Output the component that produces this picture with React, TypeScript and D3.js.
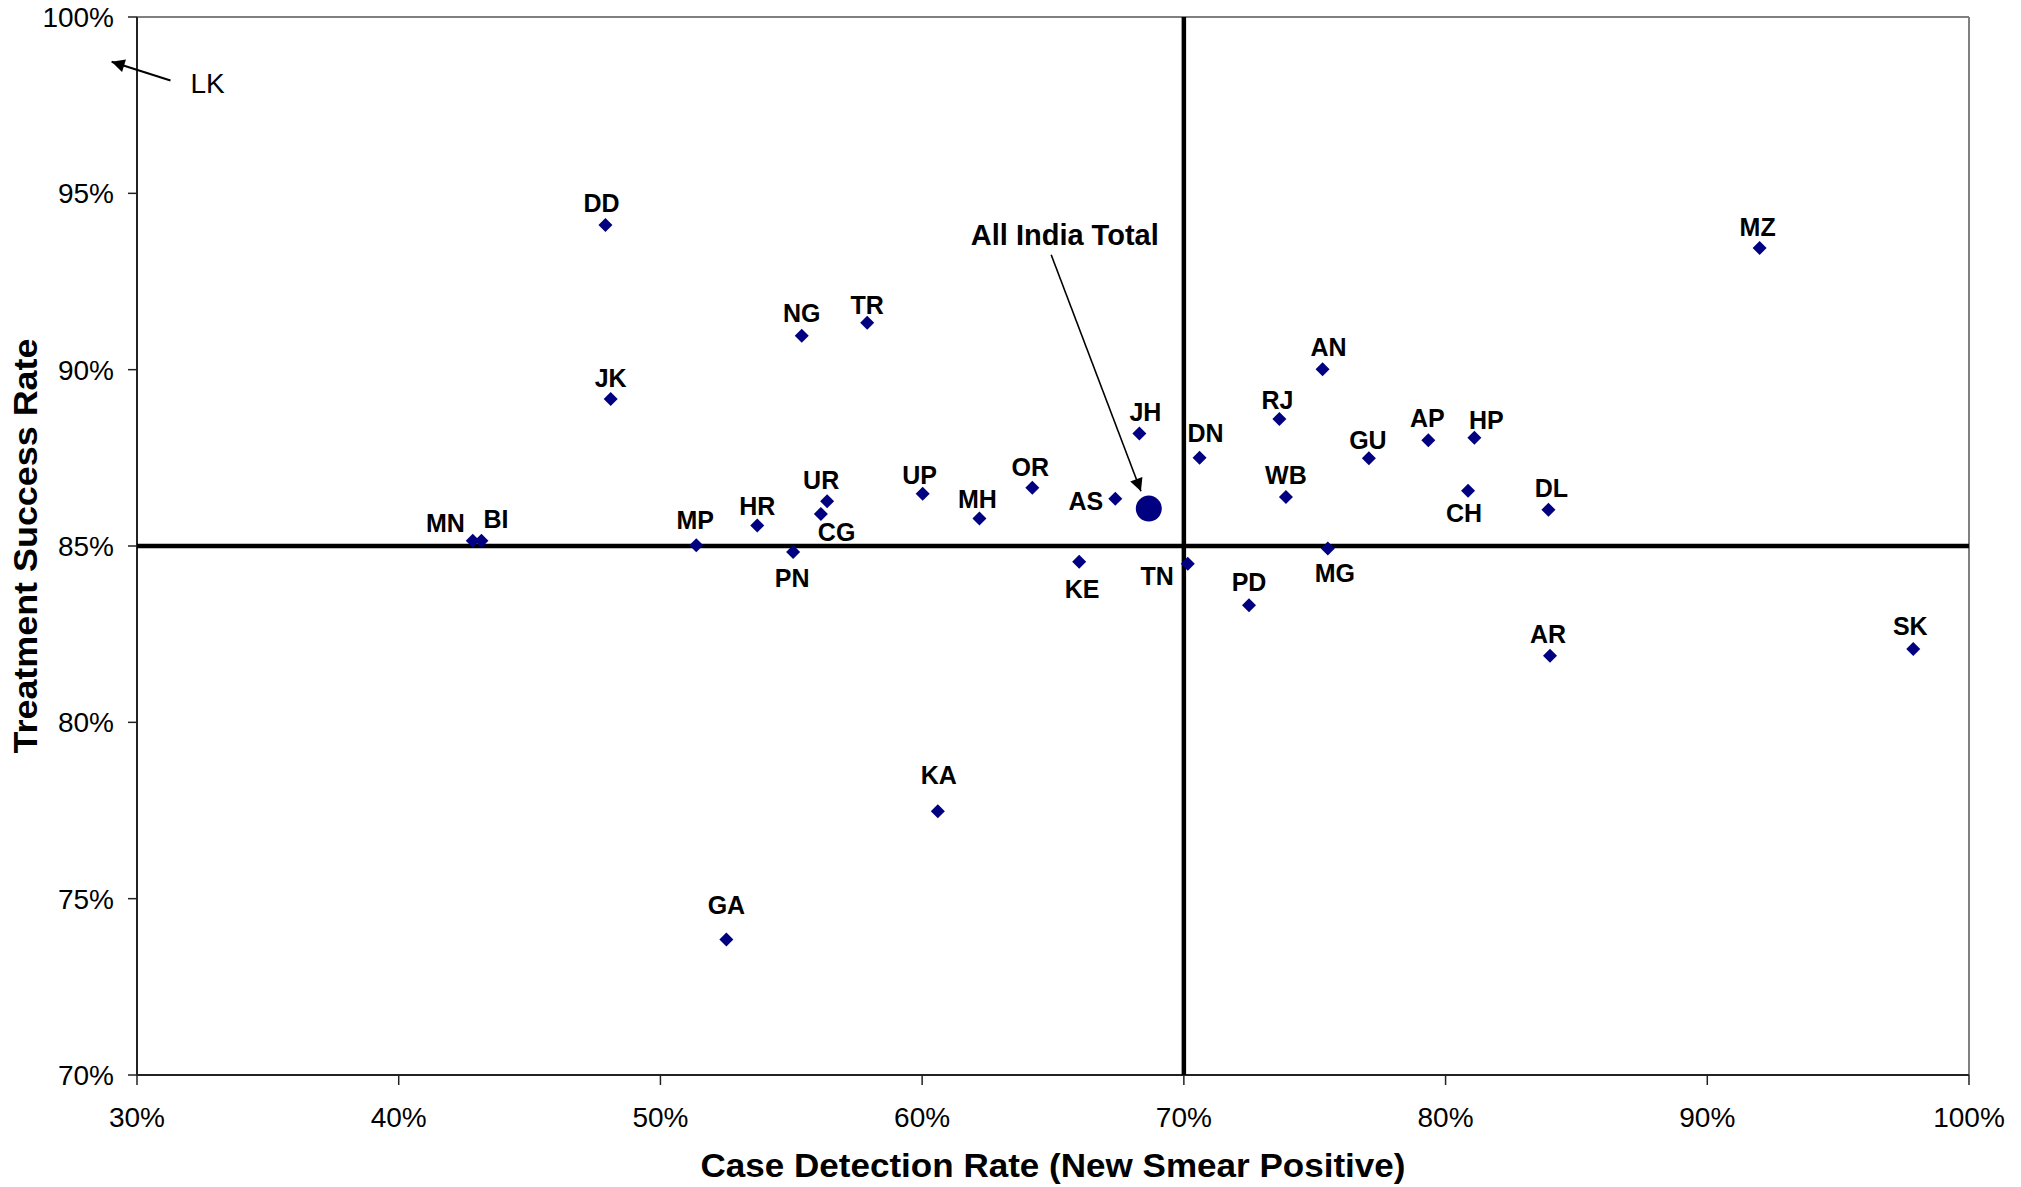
import React from 'react';
import * as d3 from 'd3';

// state codes with case detection rate (x, %) and treatment success rate (y, %)
const CODES = ['DD', 'JK', 'MN', 'BI', 'MP', 'HR', 'PN', 'CG', 'UR', 'NG', 'TR', 'UP', 'MH', 'OR', 'KE', 'AS', 'JH', 'TN', 'DN', 'PD', 'RJ', 'WB', 'AN', 'MG', 'GU', 'AP', 'HP', 'CH', 'DL', 'AR', 'SK', 'MZ', 'KA', 'GA'];
const CDR = [47.9, 48.1, 42.83, 43.16, 51.37, 53.7, 55.07, 56.13, 56.37, 55.4, 57.9, 60.02, 62.19, 64.21, 66.0, 67.38, 68.3, 70.15, 70.6, 72.49, 73.65, 73.9, 75.3, 75.5, 77.07, 79.34, 81.1, 80.86, 83.93, 83.99, 97.87, 92.0, 60.6, 52.52];
const TSR = [94.1, 89.17, 85.15, 85.15, 85.02, 85.58, 84.83, 85.91, 86.27, 90.96, 91.33, 86.48, 85.78, 86.65, 84.55, 86.34, 88.19, 84.5, 87.5, 83.32, 88.6, 86.39, 90.01, 84.93, 87.49, 88.0, 88.07, 86.57, 86.03, 81.89, 82.08, 93.45, 77.48, 73.84];

const INDIA_TOTAL = { label: 'All India Total', x: 68.66, y: 86.06 };
const INDIA_NOTE = { text: [65.45, 93.54], from: [64.93, 93.26], to: [68.36, 86.55] };
const LK_NOTE = { label: 'LK', text: [32.04, 97.85], from: [31.28, 98.2], to: [29.03, 98.73] };

const X_TICKS = [30, 40, 50, 60, 70, 80, 90, 100];
const Y_TICKS = [70, 75, 80, 85, 90, 95, 100];
const X_REF = 70;
const Y_REF = 85;

// label placement: [anchor, dx, dy] in px relative to the marker
const LABEL_PLACE: Record<string, [string, number, number]> = {
  DD: ['middle', -4, -13], JK: ['middle', 0, -12], MN: ['end', -8, -9], BI: ['start', 2, -13],
  MP: ['middle', -1, -16], HR: ['middle', 0, -11], PN: ['middle', -1, 35], CG: ['start', -3, 27],
  UR: ['middle', -6, -12], NG: ['middle', 0, -14], TR: ['middle', 0, -9], UP: ['middle', -3, -10],
  MH: ['middle', -2, -10], OR: ['middle', -2, -12], KE: ['middle', 3, 36], AS: ['end', -12, 11],
  JH: ['middle', 6, -12], TN: ['end', -14, 21], DN: ['middle', 6, -16], PD: ['middle', 0, -14],
  RJ: ['middle', -2, -10], WB: ['middle', 0, -13], AN: ['middle', 6, -13], MG: ['middle', 7, 34],
  GU: ['middle', -1, -9], AP: ['middle', -1, -13], HP: ['middle', 12, -9], CH: ['middle', -4, 31],
  DL: ['middle', 3, -13], AR: ['middle', -2, -13], SK: ['middle', -3, -14], MZ: ['middle', -2, -12],
  KA: ['middle', 1, -27], GA: ['middle', 0, -26],
};

const W = 2021;
const H = 1187;
const margin = { top: 17, right: 52, bottom: 112, left: 137 };
const FONT = 'Liberation Sans, Arial, sans-serif';
const NAVY = '#000080';

export default function App() {
  const x = d3.scaleLinear().domain([30, 100]).range([margin.left, W - margin.right]);
  const y = d3.scaleLinear().domain([70, 100]).range([H - margin.bottom, margin.top]);
  const x0 = x(30), x1 = x(100), y0 = y(70), y1 = y(100);
  const diamond = d3.symbol().type(d3.symbolDiamond2).size(125)();
  const pct = (d: number) => `${d}%`;

  return (
    <div style={{ position: 'absolute', left: 0, top: 0, background: '#fff' }}>
      <svg width={W} height={H} style={{ display: 'block', fontFamily: FONT }}>
        <defs>
          <marker id="ah" viewBox="0 0 10 10" refX="10" refY="5" markerUnits="userSpaceOnUse"
            markerWidth="16" markerHeight="13" orient="auto">
            <path d="M0,0 L10,5 L0,10 z" fill="#000" />
          </marker>
        </defs>
        <rect x={0} y={0} width={W} height={H} fill="#fff" />

        {/* plot frame */}
        <line x1={x0} x2={x1} y1={y1} y2={y1} stroke="#808080" strokeWidth={2} />
        <line x1={x1} x2={x1} y1={y1} y2={y0} stroke="#808080" strokeWidth={2} />
        <line x1={x0} x2={x0} y1={y1} y2={y0} stroke="#222" strokeWidth={2} />
        <line x1={x0} x2={x1} y1={y0} y2={y0} stroke="#222" strokeWidth={2} />

        {/* y axis ticks */}
        {Y_TICKS.map((t) => (
          <g key={`y${t}`}>
            <line x1={x0 - 9} x2={x0} y1={y(t)} y2={y(t)} stroke="#222" strokeWidth={1.5} />
            <text x={x0 - 23} y={y(t)} dy="0.36em" textAnchor="end" fontSize={28} fill="#000">{pct(t)}</text>
          </g>
        ))}

        {/* x axis ticks */}
        {X_TICKS.map((t) => (
          <g key={`x${t}`}>
            <line x1={x(t)} x2={x(t)} y1={y0} y2={y0 + 10} stroke="#222" strokeWidth={1.5} />
            <text x={x(t)} y={y0 + 52} textAnchor="middle" fontSize={28} fill="#000">{pct(t)}</text>
          </g>
        ))}

        {/* reference lines */}
        <line x1={x0} x2={x1} y1={y(Y_REF)} y2={y(Y_REF)} stroke="#000" strokeWidth={4.5} />
        <line x1={x(X_REF)} x2={x(X_REF)} y1={y1} y2={y0} stroke="#000" strokeWidth={4.5} />

        {/* states */}
        {CODES.map((c, i) => {
          const px = x(CDR[i]);
          const py = y(TSR[i]);
          const [anchor, dx, dy] = LABEL_PLACE[c] || ['middle', 0, -12];
          return (
            <g key={c}>
              <path d={diamond} transform={`translate(${px},${py})`} fill={NAVY} />
              <text x={px + dx} y={py + dy} textAnchor={anchor as any} fontSize={25} fontWeight="bold" fill="#000">{c}</text>
            </g>
          );
        })}

        {/* all India total */}
        <circle cx={x(INDIA_TOTAL.x)} cy={y(INDIA_TOTAL.y)} r={13} fill={NAVY} />
        <text x={x(INDIA_NOTE.text[0])} y={y(INDIA_NOTE.text[1])} textAnchor="middle" fontSize={29} fontWeight="bold">
          {INDIA_TOTAL.label}
        </text>
        <line x1={x(INDIA_NOTE.from[0])} y1={y(INDIA_NOTE.from[1])} x2={x(INDIA_NOTE.to[0])} y2={y(INDIA_NOTE.to[1])}
          stroke="#000" strokeWidth={1.6} markerEnd="url(#ah)" />

        {/* LK off chart */}
        <text x={x(LK_NOTE.text[0])} y={y(LK_NOTE.text[1])} fontSize={28}>{LK_NOTE.label}</text>
        <line x1={x(LK_NOTE.from[0])} y1={y(LK_NOTE.from[1])} x2={x(LK_NOTE.to[0])} y2={y(LK_NOTE.to[1])}
          stroke="#000" strokeWidth={2} markerEnd="url(#ah)" />

        {/* axis titles */}
        <text x={(x0 + x1) / 2} y={1177} textAnchor="middle" fontSize={34} fontWeight="bold"
          textLength={705} lengthAdjust="spacingAndGlyphs">Case Detection Rate (New Smear Positive)</text>
        <text transform={`translate(37,${(y0 + y1) / 2}) rotate(-90)`} textAnchor="middle" fontSize={34} fontWeight="bold"
          textLength={415} lengthAdjust="spacingAndGlyphs">Treatment Success Rate</text>
      </svg>
    </div>
  );
}
